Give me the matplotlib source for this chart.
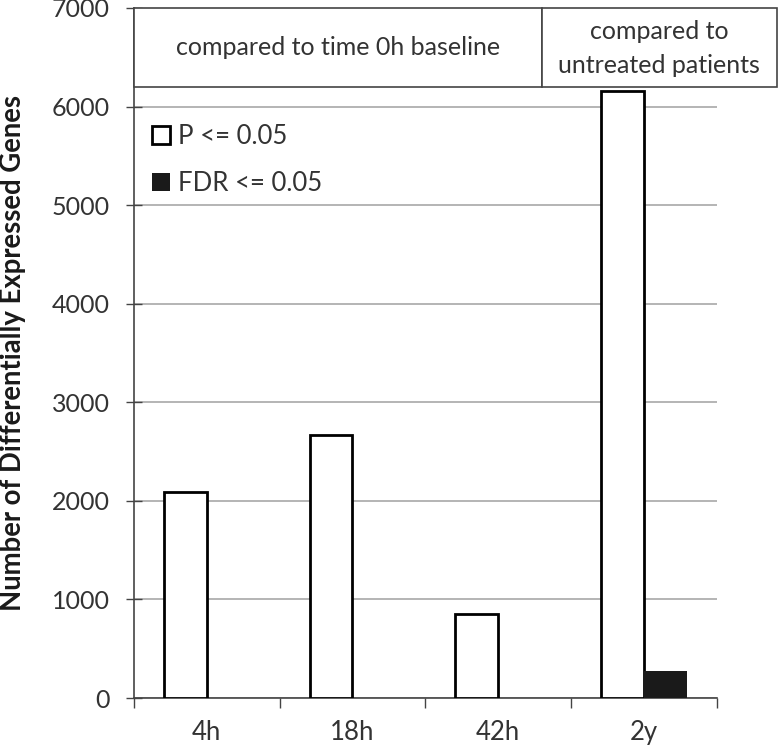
import matplotlib.pyplot as plt
import matplotlib.transforms as mtransforms
from matplotlib.patches import Rectangle
import numpy as np

plt.rcParams['font.family'] = ['Lato', 'DejaVu Sans']

# data
zaman = ['4h', '18h', '42h', '2y']
p_degerleri = [2090, 2665, 850, 6155]
fdr_degerleri = [0, 0, 0, 270]
yticks = [0, 1000, 2000, 3000, 4000, 5000, 6000, 7000]

metin_renk = '#333333'
eksen_renk = '#444444'

fig = plt.figure(figsize=(7.79, 7.46), dpi=100)
ax = fig.add_axes([0.172, 0.0643, 0.748, 0.925])

x = np.arange(len(zaman))
w = 0.295

ax.bar(x, p_degerleri, width=-w, align='edge', color='white',
       edgecolor='black', linewidth=2, zorder=3, label='P <= 0.05')
ax.bar(x, fdr_degerleri, width=w, align='edge', color='#1a1a1a',
       edgecolor='#1a1a1a', linewidth=0, zorder=3, label='FDR <= 0.05')

ax.set_xlim(-0.5, len(zaman) - 0.5)
ax.set_ylim(0, 7000)
ax.set_yticks(yticks)
ax.set_xticks(x)
ax.set_xticklabels(zaman)
ax.set_xticks(np.arange(len(zaman) + 1) - 0.5, minor=True)

ax.tick_params(axis='x', which='major', length=0, pad=15.5, labelsize=18.5,
               labelcolor=metin_renk)
ax.tick_params(axis='x', which='minor', length=7, width=1, direction='out',
               color=eksen_renk)
ax.tick_params(axis='y', length=11, width=1, direction='inout', pad=12,
               labelsize=18, labelcolor=metin_renk, color=eksen_renk)

ax.grid(axis='y', color='#a8a8a8', linewidth=1.2, zorder=0)
ax.set_axisbelow(True)

for s in ['top', 'right']:
    ax.spines[s].set_visible(False)
for s in ['left', 'bottom']:
    ax.spines[s].set_color(eksen_renk)
    ax.spines[s].set_linewidth(1.2)

ax.set_ylabel('Number of Differentially Expressed Genes', fontsize=19.8,
              fontweight='bold', color='#1a1a1a')
ax.yaxis.set_label_coords(-0.186, 0.5)

# header boxes above the bars
tr = mtransforms.blended_transform_factory(ax.transAxes, ax.transData)
kutu_alt, kutu_ust = 6200, 7000
bolme = 0.700
sag = 1.103
ax.add_patch(Rectangle((0, kutu_alt), bolme, kutu_ust - kutu_alt, transform=tr,
                       facecolor='white', edgecolor=eksen_renk, linewidth=1.2,
                       clip_on=False, zorder=5))
ax.add_patch(Rectangle((bolme, kutu_alt), sag - bolme, kutu_ust - kutu_alt,
                       transform=tr, facecolor='white', edgecolor=eksen_renk,
                       linewidth=1.2, clip_on=False, zorder=5))
ax.text(bolme / 2, 6600, 'compared to time 0h baseline', transform=tr,
        ha='center', va='center', fontsize=18, color=metin_renk, zorder=6)
ax.text((bolme + sag) / 2, 6590, 'compared to\nuntreated patients', transform=tr,
        ha='center', va='center', fontsize=18, color=metin_renk, zorder=6,
        linespacing=1.55)

leg = ax.legend(loc='upper left', bbox_to_anchor=(0.0, 0.858), frameon=False,
                fontsize=18.5, handlelength=0.7, handleheight=0.7,
                handletextpad=0.3, labelspacing=0.87, borderaxespad=0.3)
for t in leg.get_texts():
    t.set_color(metin_renk)

fig.savefig('out.png', dpi=100)
